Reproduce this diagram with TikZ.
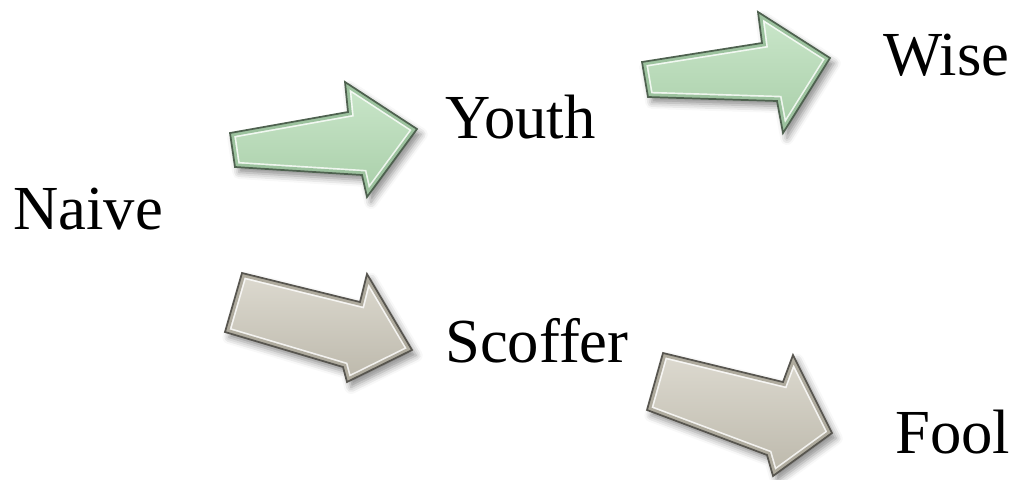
\documentclass[tikz,border=0pt]{standalone}
\usepackage{fontspec}
\setmainfont{Liberation Serif}
\usetikzlibrary{shadows.blur}
\definecolor{mintlight}{HTML}{CBE7CB}
\definecolor{mintdark}{HTML}{A8CEA8}
\definecolor{mintband}{HTML}{9CC29E}
\definecolor{mintline}{HTML}{34503A}
\definecolor{stonelight}{HTML}{DDDAD0}
\definecolor{stonedark}{HTML}{BCB8AB}
\definecolor{stoneband}{HTML}{AFAB9E}
\definecolor{stoneline}{HTML}{45433B}

% block arrow: fill, bevel inside the outline, outline
\newcommand{\roadarrow}[3]{%
  \path[#1,blur shadow={shadow xshift=3pt,shadow yshift=-4pt,shadow opacity=45,shadow blur radius=5pt}] #3;
  \begin{scope}
    \clip #3;
    \draw[white,opacity=0.8,line width=8pt,line join=miter] #3;
    \draw[#2,line width=5.5pt,line join=miter] #3;
  \end{scope}
  \draw[#2!50!black,line width=1.3pt,line join=miter] #3;
}

\begin{document}
\begin{tikzpicture}[x=0.75pt,y=-0.75pt]
  \tikzstyle{word}=[
       anchor=base west,
       inner sep=0pt,
       font=\fontsize{47}{56}\selectfont]
  \tikzstyle{wisearrow}=[top color=mintlight,bottom color=mintdark]
  \tikzstyle{foolarrow}=[top color=stonelight,bottom color=stonedark]
  \useasboundingbox (0,0) rectangle (1020,479);

  \node[word] (naive)   at (13,229)  {Naive};
  \node[word] (youth)   at (445,138) {Youth};
  \node[word] (wise)    at (883,75)  {Wise};
  \node[word] (scoffer) at (445,362) {Scoffer};
  \node[word] (fool)    at (895,453) {Fool};

  % upper road
  \roadarrow{wisearrow}{mintband}{(230,133) -- (348,112) -- (345,82) -- (417,129)
       -- (367,197) -- (362,175) -- (235,167) -- cycle}
  \roadarrow{wisearrow}{mintband}{(642,62) -- (762,43) -- (758,12) -- (830,58)
       -- (783,133) -- (777,101) -- (648,97) -- cycle}
  % lower road
  \roadarrow{foolarrow}{stoneband}{(242,273) -- (360,302) -- (367,274) -- (412,350)
       -- (347,382) -- (343,367) -- (225,332) -- cycle}
  \roadarrow{foolarrow}{stoneband}{(663,353) -- (783,382) -- (793,355) -- (832,433)
       -- (773,476) -- (767,455) -- (647,410) -- cycle}
\end{tikzpicture}
\end{document}
